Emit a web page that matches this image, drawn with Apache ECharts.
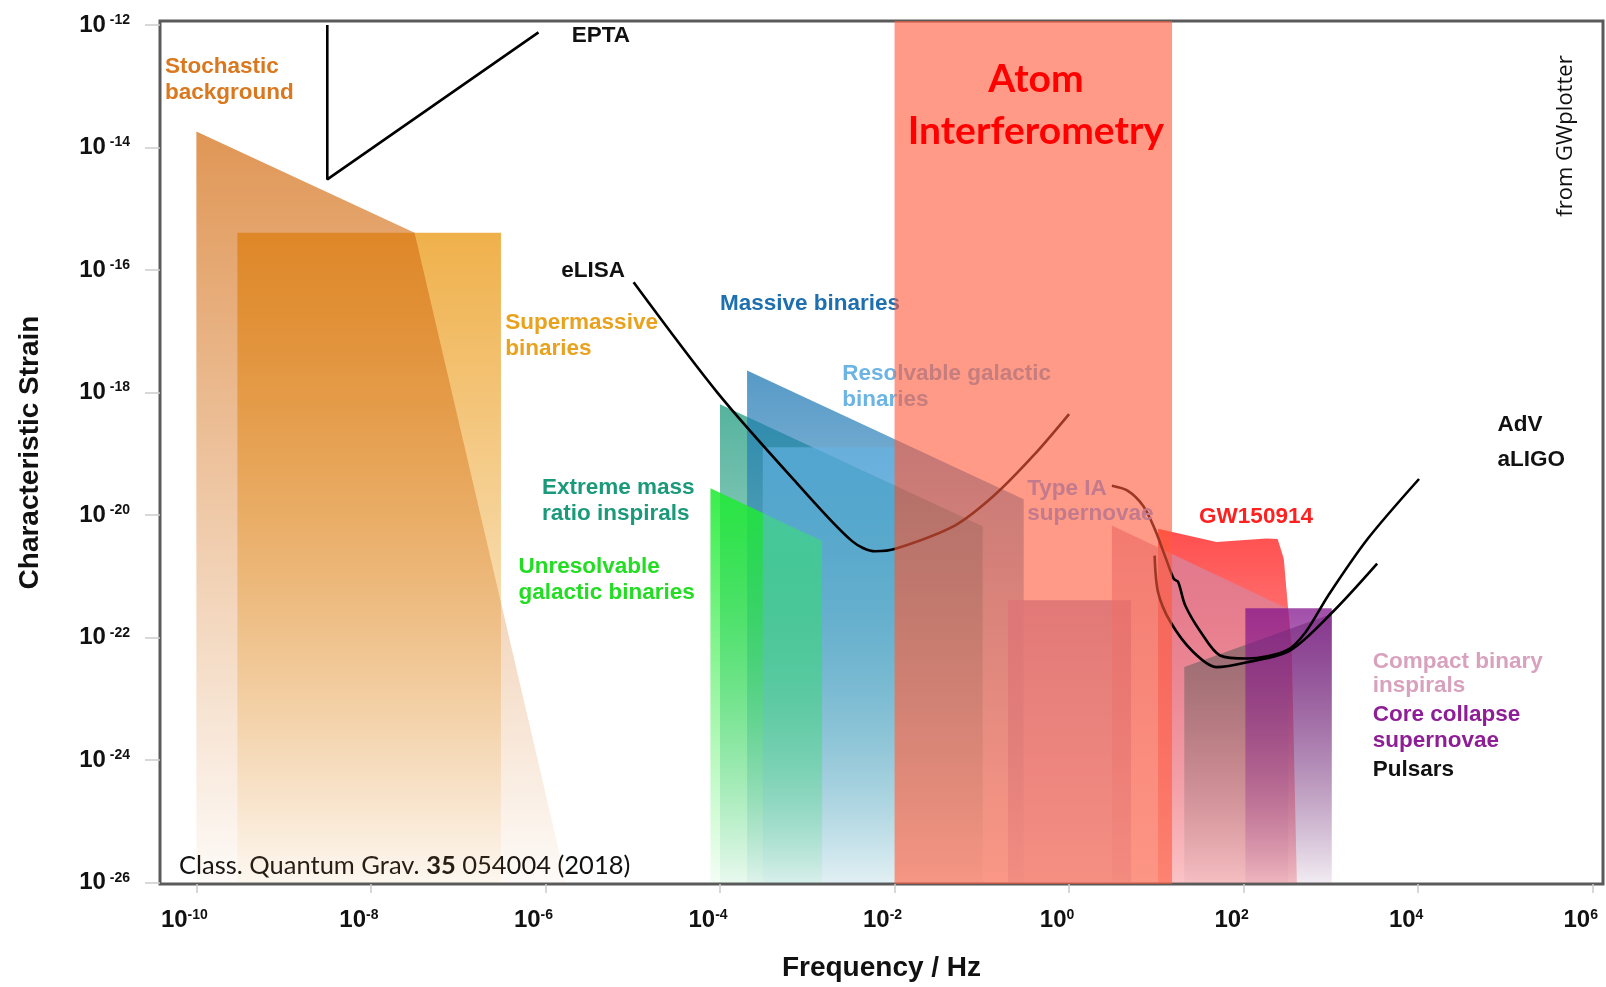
<!DOCTYPE html>
<html>
<head>
<meta charset="utf-8">
<title>Gravitational wave sources</title>
<script src="https://cdn.jsdelivr.net/npm/echarts@6/dist/echarts.min.js"></script>
<style>
  html, body { margin: 0; padding: 0; background: #fff; }
  #main { width: 1606px; height: 987px; }
</style>
</head>
<body>
<div id="main"></div>
<script>
// every point is [log10(f / Hz), log10(h)]
const xMin = -10.417, xMax = 6.118;
const yMin = -26.02, yMax = -11.935;
const xTicks = [-10, -8, -6, -4, -2, 0, 2, 4, 6];
const yTicks = [-26, -24, -22, -20, -18, -16, -14, -12];

// source regions
const stochastic = [[-10.0, -13.74], [-7.5, -15.39], [-5.76, -26], [-10.0, -26]];
const supermassive = [[-9.53, -15.39], [-6.51, -15.39], [-6.51, -26], [-9.53, -26]];
const emri = [[-4.0, -18.19], [-0.99, -20.18], [-0.99, -26], [-4.0, -26]];
const massive = [[-3.69, -17.64], [-0.52, -19.74], [-0.52, -26], [-3.69, -26]];
const unresolvable = [[-4.11, -19.56], [-2.83, -20.42], [-2.83, -26], [-4.11, -26]];
const resolvable = [[-3.51, -18.89], [-2.0, -18.89], [-2.0, -26], [-3.51, -26]];
const typeIa = [[-0.70, -21.39], [0.71, -21.39], [0.71, -26], [-0.70, -26]];
const gw150914 = [[1.02, -20.22], [1.69, -20.44], [2.26, -20.38], [2.39, -20.39], [2.46, -20.71],
                  [2.51, -21.53], [2.55, -22.13], [2.61, -26], [1.02, -26]];
const compact = [[0.49, -20.17], [2.51, -21.53], [2.51, -26], [0.49, -26]];
const pulsars = [[1.32, -22.48], [3.01, -21.61], [3.01, -26], [1.32, -26]];
const coreCollapse = [[2.02, -21.52], [3.01, -21.52], [3.01, -26], [2.02, -26]];
const atomBand = [[-2.0, yMin], [1.18, yMin], [1.18, yMax], [-2.0, yMax]];

// detector curves
const epta = [[-8.50, -12.0], [-8.50, -14.52], [-6.08, -12.12]];
const elisa = [[-4.99, -16.20], [-4.03, -18.00], [-3.13, -19.46], [-2.49, -20.42], [-2.22, -20.59],
               [-1.99, -20.55], [-1.31, -20.17], [-0.86, -19.68], [-0.41, -19.03], [0.0, -18.35]];
const adv = [[0.49, -19.52], [0.67, -19.60], [0.85, -19.85], [0.98, -20.22], [1.11, -20.71], [1.20, -21.04],
             [1.25, -21.09], [1.33, -21.47], [1.51, -21.91], [1.73, -22.29], [2.04, -22.34], [2.49, -22.21],
             [2.71, -21.91], [2.97, -21.31], [3.42, -20.39], [4.01, -19.41]];
const aligo = [[0.98, -20.66], [1.02, -21.26], [1.16, -21.74], [1.42, -22.23], [1.69, -22.48], [2.04, -22.40],
               [2.53, -22.21], [3.02, -21.58], [3.53, -20.79]];

// text anchors: [text, f, h, group]
const labelsUnder = [
  ['Massive binaries', -4.0, -16.55, 'massive'],
  ['Resolvable galactic', -2.60, -17.70, 'resolvable'],
  ['binaries', -2.60, -18.12, 'resolvable']
];
const labelsOver = [
  ['Stochastic', -10.36, -12.69, 'stoch'],
  ['background', -10.36, -13.11, 'stoch'],
  ['EPTA', -5.70, -12.18, 'black'],
  ['Supermassive', -6.46, -16.86, 'smbh'],
  ['binaries', -6.46, -17.28, 'smbh'],
  ['eLISA', -5.82, -16.02, 'black'],
  ['Extreme mass', -6.04, -19.55, 'emri'],
  ['ratio inspirals', -6.04, -19.97, 'emri'],
  ['Unresolvable', -6.31, -20.85, 'unres'],
  ['galactic binaries', -6.31, -21.27, 'unres'],
  ['GW150914', 1.49, -20.02, 'gw'],
  ['AdV', 4.91, -18.53, 'black'],
  ['aLIGO', 4.91, -19.10, 'black'],
  ['Compact binary', 3.48, -22.39, 'compact'],
  ['inspirals', 3.48, -22.79, 'compact'],
  ['Core collapse', 3.48, -23.26, 'core'],
  ['supernovae', 3.48, -23.68, 'core'],
  ['Pulsars', 3.48, -24.16, 'black']
];
const labelsTop = [
  ['Type IA', -0.48, -19.57, 'typeIa'],
  ['supernovae', -0.48, -19.97, 'typeIa']
];
const atomText = [['Atom', -0.38, -12.89], ['Interferometry', -0.38, -13.73]];

const textColors = {
  stoch: '#d9781e', smbh: '#e9a21e', black: '#111', massive: '#1e6fb0',
  resolvable: '#6cb4e4', emri: '#1a9a7a', unres: '#22dd22', typeIa: '#c27a8c',
  gw: '#ff2020', compact: '#d8a2be', core: '#8e1e96'
};
const labelFont = 'bold 22.5px "Liberation Sans", Arial, sans-serif';

function rgba(c, a) { return 'rgba(' + c.join(',') + ',' + a + ')'; }

function region(pts, c, aTop, aBottom, z) {
  return {
    type: 'custom',
    silent: true,
    clip: true,
    z: z,
    data: pts,
    renderItem: function (params, api) {
      if (params.dataIndex !== 0) return null;
      return {
        type: 'polygon',
        shape: { points: pts.map(function (p) { return api.coord(p); }) },
        style: {
          fill: new echarts.graphic.LinearGradient(0, 0, 0, 1, [
            { offset: 0, color: rgba(c, aTop) },
            { offset: 1, color: rgba(c, aBottom) }
          ])
        }
      };
    }
  };
}

function curve(pts, smooth) {
  return {
    type: 'line', silent: true, z: 2, data: pts, smooth: smooth, symbol: 'none',
    lineStyle: { color: '#000', width: 2.6 }
  };
}

function labels(items, font, colorOf, align, z) {
  return {
    type: 'custom',
    silent: true,
    z: z,
    data: items.map(function (d) { return [d[1], d[2]]; }),
    renderItem: function (params, api) {
      const it = items[params.dataIndex];
      const p = api.coord([it[1], it[2]]);
      return {
        type: 'text', x: p[0], y: p[1],
        style: { text: it[0], fill: colorOf(it), font: font, align: align, verticalAlign: 'middle' }
      };
    }
  };
}

function groupColor(d) { return textColors[d[3]]; }

const tickRich = {
  b: { fontFamily: '"Liberation Sans", Arial, sans-serif', fontWeight: 'bold', fontSize: 24, lineHeight: 24, color: '#111' },
  s: { fontFamily: '"Liberation Sans", Arial, sans-serif', fontWeight: 'bold', fontSize: 14, lineHeight: 14, verticalAlign: 'top', color: '#111' }
};

const chart = echarts.init(document.getElementById('main'));

chart.setOption({
  animation: false,
  backgroundColor: '#fff',
  grid: { left: 160, right: 3, top: 21, bottom: 101, show: true, borderColor: '#5a5a5a', borderWidth: 3 },
  xAxis: {
    type: 'value', min: xMin, max: xMax,
    name: 'Frequency / Hz', nameLocation: 'middle', nameGap: 70,
    nameTextStyle: { fontFamily: '"Liberation Sans", Arial, sans-serif', fontWeight: 'bold', fontSize: 28, color: '#111' },
    axisLine: { show: false, onZero: false },
    splitLine: { show: false },
    axisTick: { customValues: xTicks, length: 9, lineStyle: { color: '#ccc', width: 1.5 } },
    axisLabel: {
      customValues: xTicks, margin: 24, padding: [0, 24, 0, 0],
      formatter: function (v) { return '{b|10}{s|' + v + '}'; },
      rich: tickRich
    }
  },
  yAxis: {
    type: 'value', min: yMin, max: yMax,
    name: 'Characteristic Strain', nameLocation: 'middle', nameGap: 116,
    nameTextStyle: { fontFamily: '"Liberation Sans", Arial, sans-serif', fontWeight: 'bold', fontSize: 28, color: '#111' },
    axisLine: { show: false, onZero: false },
    splitLine: { show: false },
    axisTick: { customValues: yTicks, length: 15, lineStyle: { color: '#ccc', width: 1.5 } },
    axisLabel: {
      customValues: yTicks, margin: 30,
      formatter: function (v) { return '{b|10}{s| ' + v + '}'; },
      rich: tickRich
    }
  },
  graphic: [
    {
      type: 'text', x: 1566, y: 136, rotation: Math.PI / 2,
      style: { text: 'from GWplotter', font: '22px "Open Sans", sans-serif', fill: '#111', align: 'center', verticalAlign: 'middle' }
    },
    {
      type: 'text', x: 179, y: 866,
      style: {
        text: 'Class. Quantum Grav. {b|35} 054004 (2018)',
        font: '25.5px Lato, "Open Sans", sans-serif', fill: '#111', verticalAlign: 'middle',
        rich: { b: { fontFamily: 'Lato', fontSize: 25.5, fontWeight: 'bold', fill: '#111' } }
      }
    }
  ],
  series: [
    region(supermassive, [238, 170, 60], 0.92, 0.04, 1),
    region(stochastic, [212, 110, 20], 0.72, 0.03, 1),
    region(emri, [20, 150, 120], 0.72, 0.05, 1),
    region(massive, [30, 120, 180], 0.75, 0.05, 1),
    region(unresolvable, [30, 235, 50], 0.88, 0.05, 1),
    region(resolvable, [100, 180, 230], 0.6, 0.05, 1),
    region(typeIa, [170, 160, 210], 0.9, 0.3, 1),
    region(gw150914, [255, 40, 40], 0.82, 0.25, 1),
    region(compact, [210, 140, 170], 0.7, 0.1, 1),
    region(pulsars, [90, 90, 90], 0.62, 0.04, 1),
    region(coreCollapse, [130, 20, 140], 0.75, 0.06, 1),
    curve(epta, false),
    curve(elisa, 0.3),
    curve(adv, 0.3),
    curve(aligo, 0.3),
    labels(labelsUnder, labelFont, groupColor, 'left', 3),
    region(atomBand, [255, 90, 60], 0.61, 0.61, 4),
    labels(labelsOver, labelFont, groupColor, 'left', 5),
    labels(labelsTop, labelFont, groupColor, 'left', 5),
    labels(atomText, 'bold 39px Lato, "Open Sans", sans-serif', function () { return '#ff0000'; }, 'center', 5)
  ]
});
</script>
</body>
</html>
